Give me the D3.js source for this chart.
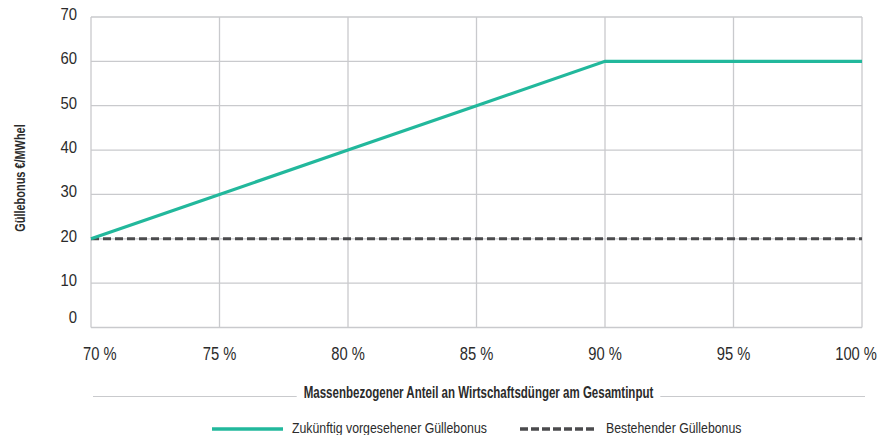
<!DOCTYPE html>
<html>
<head>
<meta charset="utf-8">
<script src="https://cdn.jsdelivr.net/npm/d3@7"></script>
<style>
  body { margin: 0; background: #fff; }
  text { font-family: "Liberation Sans", Arial, sans-serif; fill: #2b2b2b; }
</style>
</head>
<body>
<svg id="chart" width="881" height="435"></svg>
<script>
// data
var shares = [70, 75, 80, 85, 90, 95, 100];          // % Wirtschaftsdünger
var futureBonus = [20, 30, 40, 50, 60, 60, 60];      // zukünftig vorgesehen
var currentBonus = [20, 20, 20, 20, 20, 20, 20];     // bestehend
var yTicks = [0, 10, 20, 30, 40, 50, 60, 70];

var seriesNames = ["Zukünftig vorgesehener Güllebonus", "Bestehender Güllebonus"];

var teal = "#22b89c",
    dark = "#4b4b4d",
    grid = "#c9cacd";

var svg = d3.select("#chart");

var x = d3.scaleLinear().domain([70, 100]).range([91, 862]);
var y = d3.scaleLinear().domain([0, 70]).range([327.5, 17]);

// squeeze text horizontally (no narrow font installed)
function condense(sel, k){
  sel.each(function(){
    var w = this.getComputedTextLength();
    d3.select(this).attr("textLength", w * k).attr("lengthAdjust", "spacingAndGlyphs");
  });
}

// gridlines
var g = svg.append("g");
g.selectAll(".hgrid").data(yTicks).enter().append("line")
  .attr("x1", x(70)).attr("x2", x(100))
  .attr("y1", function(d){ return y(d); })
  .attr("y2", function(d){ return y(d); })
  .attr("stroke", grid).attr("stroke-width", 1.3);
g.selectAll(".vgrid").data(shares).enter().append("line")
  .attr("x1", function(d){ return x(d); })
  .attr("x2", function(d){ return x(d); })
  .attr("y1", y(70)).attr("y2", y(0))
  .attr("stroke", grid).attr("stroke-width", 1.3);

// y tick labels (the 0 sits a bit higher in the original)
svg.selectAll(".ylab").data(yTicks).enter().append("text")
  .attr("x", 77)
  .attr("y", function(d){ return y(d) + 3 - (d === 0 ? 8 : 0); })
  .attr("text-anchor", "end")
  .style("font-size", "16.5px")
  .text(function(d){ return d; })
  .call(condense, 0.9);

// x tick labels, squeezed with a transform and kept inside the plot ends
var xk = 0.82;
svg.selectAll(".xlab").data(shares).enter().append("text")
  .attr("text-anchor", "middle")
  .style("font-size", "18px")
  .text(function(d){ return d + " %"; })
  .each(function(d){
    var w = this.getComputedTextLength() * xk;
    var cx = x(d);
    if (cx - w / 2 < 83) cx = 83 + w / 2;
    if (cx + w / 2 > 877) cx = 877 - w / 2;
    d3.select(this).attr("transform", "translate(" + cx + ",360) scale(" + xk + ",1)");
  });

// lines
var line = d3.line()
  .x(function(d, i){ return x(shares[i]); })
  .y(function(d){ return y(d); });

svg.append("path")
  .datum(currentBonus)
  .attr("d", line)
  .attr("fill", "none")
  .attr("stroke", dark)
  .attr("stroke-width", 3)
  .attr("stroke-dasharray", "8,4");

svg.append("path")
  .datum(futureBonus)
  .attr("d", line)
  .attr("fill", "none")
  .attr("stroke", teal)
  .attr("stroke-width", 3.2);

// y axis title
svg.append("text")
  .attr("transform", "translate(25,178) rotate(-90)")
  .attr("text-anchor", "middle")
  .style("font-size", "14px")
  .style("font-weight", "bold")
  .text("Güllebonus €/MWhel")
  .call(condense, 0.78);

// x axis title with rules on both sides
var xt = svg.append("text")
  .attr("x", 478.5)
  .attr("y", 398)
  .attr("text-anchor", "middle")
  .style("font-size", "16px")
  .style("font-weight", "bold")
  .text("Massenbezogener Anteil an Wirtschaftsdünger am Gesamtinput")
  .call(condense, 0.72);
var tw = +xt.attr("textLength");
svg.append("line").attr("x1", 93).attr("x2", 478.5 - tw / 2 - 7).attr("y1", 396.5).attr("y2", 396.5)
  .attr("stroke", grid).attr("stroke-width", 1.2);
svg.append("line").attr("x1", 478.5 + tw / 2 + 7).attr("x2", 865).attr("y1", 396.5).attr("y2", 396.5)
  .attr("stroke", grid).attr("stroke-width", 1.2);

// legend
var legend = [
  { name: seriesNames[0], color: teal, dash: null, x0: 212, x1: 283, tx: 292 },
  { name: seriesNames[1], color: dark, dash: "8,3", x0: 520, x1: 597, tx: 606 }
];
var lg = svg.selectAll(".legend").data(legend).enter().append("g");
lg.append("line")
  .attr("x1", function(d){ return d.x0; })
  .attr("x2", function(d){ return d.x1; })
  .attr("y1", 429).attr("y2", 429)
  .attr("stroke", function(d){ return d.color; })
  .attr("stroke-width", 3.5)
  .attr("stroke-dasharray", function(d){ return d.dash; });
lg.append("text")
  .attr("x", function(d){ return d.tx; })
  .attr("y", 433)
  .style("font-size", "15px")
  .text(function(d){ return d.name; })
  .call(condense, 0.82);
</script>
</body>
</html>
